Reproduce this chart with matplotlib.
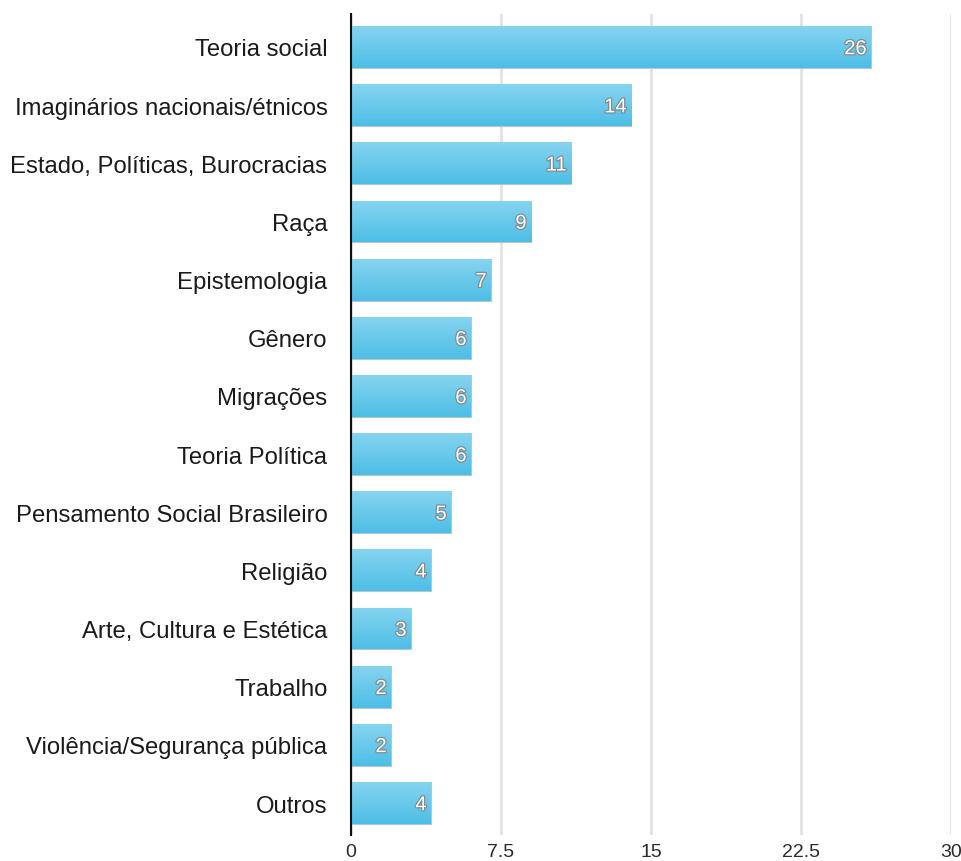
import numpy as np
import matplotlib
matplotlib.use("Agg")
import matplotlib.pyplot as plt
import matplotlib.patheffects as pe
from matplotlib.colors import LinearSegmentedColormap

categories = [
    "Teoria social",
    "Imaginários nacionais/étnicos",
    "Estado, Políticas, Burocracias",
    "Raça",
    "Epistemologia",
    "Gênero",
    "Migrações",
    "Teoria Política",
    "Pensamento Social Brasileiro",
    "Religião",
    "Arte, Cultura e Estética",
    "Trabalho",
    "Violência/Segurança pública",
    "Outros",
]
values = [26, 14, 11, 9, 7, 6, 6, 6, 5, 4, 3, 2, 2, 4]
xticks = [0, 7.5, 15, 22.5, 30]
xtick_labels = ["0", "7.5", "15", "22.5", "30"]

plt.rcParams["font.family"] = ["Liberation Sans", "DejaVu Sans"]

fig = plt.figure(figsize=(9.62, 8.62), dpi=100)
ax = fig.add_axes([351 / 962, 1 - 836 / 862, 600 / 962, 821 / 862])

y = np.arange(len(categories))
bar_h = 0.72
bars = ax.barh(y, values, height=bar_h, color="#5cc4ea",
               edgecolor="#b9c4c9", linewidth=0.8, zorder=2)

# vertical gradient inside every bar
grad_cmap = LinearSegmentedColormap.from_list("bar", ["#86d4f0", "#4dbee6"])
grad = np.linspace(0, 1, 64).reshape(-1, 1)
for rect, v, yi in zip(bars, values, y):
    im = ax.imshow(grad, cmap=grad_cmap, aspect="auto",
                   extent=(0, v, yi + bar_h / 2, yi - bar_h / 2),
                   origin="upper", zorder=2.5, interpolation="bilinear")
    im.set_clip_path(rect)
    ax.text(v - 0.22, yi + 0.03, str(v), ha="right", va="center",
            fontsize=14.5, color="white", zorder=4,
            path_effects=[pe.withStroke(linewidth=1.8, foreground="#808c92")])

ax.set_xlim(0, 30)
ax.set_ylim(13.55, -0.567)
ax.set_xticks(xticks)
ax.set_xticklabels(xtick_labels)
ax.set_yticks(y)
ax.set_yticklabels(categories)
ax.tick_params(axis="y", length=0, pad=17, labelsize=17.2, labelcolor="#1a1a1a")
ax.tick_params(axis="x", length=0, pad=6, labelsize=14, labelcolor="#2a2a2a")

ax.grid(axis="x", color="#e2e2e2", linewidth=2, zorder=0)
ax.set_axisbelow(True)
for s in ("top", "right", "bottom"):
    ax.spines[s].set_visible(False)
ax.spines["left"].set_color("#111111")
ax.spines["left"].set_linewidth(1.5)
ax.spines["left"].set_zorder(5)

fig.savefig("out.png", dpi=100)
